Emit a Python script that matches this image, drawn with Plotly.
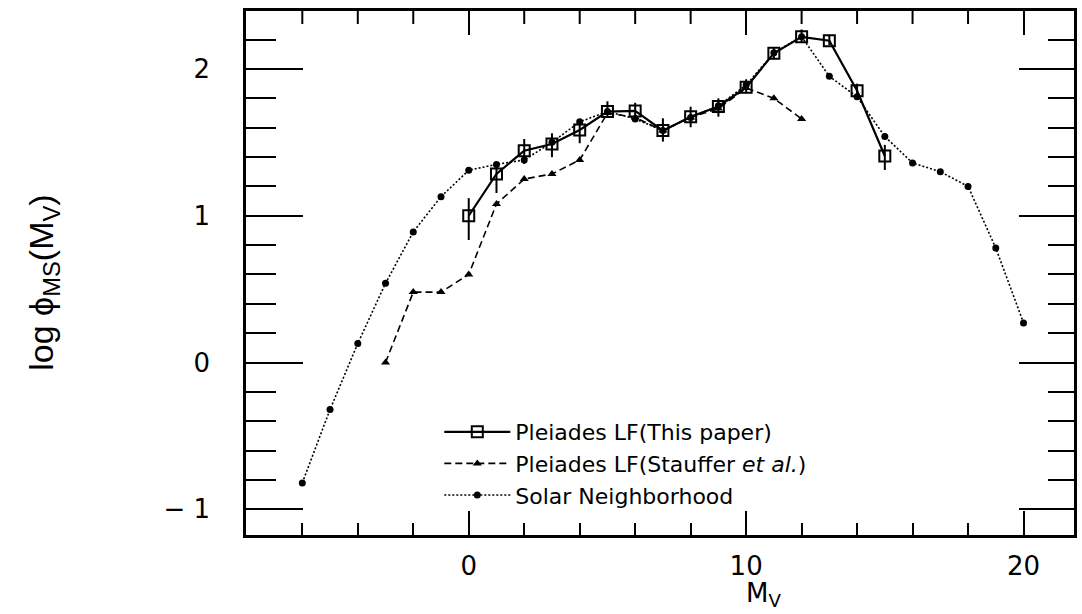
import plotly.graph_objects as go

# ---- data ----
solar_mv = [-6, -5, -4, -3, -2, -1, 0, 1, 2, 3, 4, 5, 6, 7, 8, 9, 10, 11, 12, 13, 14, 15, 16, 17, 18, 19, 20]
solar_lf = [-0.82, -0.32, 0.13, 0.54, 0.89, 1.13, 1.31, 1.35, 1.38, 1.50, 1.64, 1.71, 1.66, 1.58, 1.67, 1.75,
            1.89, 2.11, 2.22, 1.95, 1.81, 1.54, 1.36, 1.30, 1.20, 0.78, 0.27]

stauffer_mv = [-3, -2, -1, 0, 1, 2, 3, 4, 5, 6, 7, 8, 9, 10, 11, 12]
stauffer_lf = [0.00, 0.48, 0.48, 0.60, 1.08, 1.25, 1.285, 1.38, 1.70, 1.67, 1.58, 1.67, 1.73, 1.87, 1.80, 1.66]

paper_mv = [0, 1, 2, 3, 4, 5, 6, 7, 8, 9, 10, 11, 12, 13, 14, 15]
paper_lf = [1.00, 1.285, 1.443, 1.489, 1.584, 1.71, 1.714, 1.58, 1.675, 1.745, 1.875, 2.107, 2.219, 2.193, 1.852, 1.407]
paper_err_plus = [0.12, 0.07, 0.08, 0.073, 0.075, 0.07, 0.056, 0.084, 0.068, 0.055, 0.055, 0.04, 0.05, 0.04, 0.048, 0.076]
paper_err_minus = [0.165, 0.13, 0.09, 0.09, 0.09, 0.04, 0.062, 0.075, 0.072, 0.07, 0.041, 0.04, 0.04, 0.03, 0.063, 0.095]

x_tickvals = [0, 10, 20]
x_ticktext = ["0", "10", "20"]
x_minor_tickvals = [-6, -4, -2, 2, 4, 6, 8, 12, 14, 16, 18]
y_tickvals = [-1, 0, 1, 2]
y_ticktext = ["\u2212 1", "0", "1", "2"]

names = ["Pleiades LF(This paper)", "Pleiades LF(Stauffer <i>et al.</i>)", "Solar Neighborhood"]

X_RANGE = [-8.03, 21.82]
Y_RANGE = [-1.175, 2.395]

fig = go.Figure()

fig.add_trace(go.Scatter(
    x=solar_mv, y=solar_lf, mode="lines+markers", name=names[2], legendrank=3,
    line=dict(color="black", width=1.6, dash="2px,2px"),
    marker=dict(symbol="circle", size=7, color="black"),
))
fig.add_trace(go.Scatter(
    x=stauffer_mv, y=stauffer_lf, mode="lines+markers", name=names[1], legendrank=2,
    line=dict(color="black", width=1.6, dash="7px,4px"),
    marker=dict(symbol="triangle-up", size=8, color="black"),
))
fig.add_trace(go.Scatter(
    x=paper_mv, y=paper_lf, mode="lines+markers", name=names[0], legendrank=1,
    line=dict(color="black", width=2.2),
    marker=dict(symbol="square-open", size=11, color="black", line=dict(width=2, color="black")),
    error_y=dict(type="data", symmetric=False, array=paper_err_plus, arrayminus=paper_err_minus,
                 color="black", thickness=2, width=0),
))
fig.add_trace(go.Scatter(x=solar_mv, y=solar_lf, xaxis="x2", yaxis="y2", mode="markers",
                         marker=dict(opacity=0), showlegend=False, hoverinfo="skip"))

tickfont = dict(family="DejaVu Sans", size=26, color="black")
base = dict(type="linear", showgrid=False, zeroline=False, showline=True, linecolor="black", linewidth=2.5,
            ticks="inside", tickcolor="black", tickwidth=2)
xminor = dict(tickvals=x_minor_tickvals, ticks="inside", ticklen=12, tickwidth=2, tickcolor="black")
yminor = dict(dtick=0.2, tick0=0, ticks="inside", ticklen=30, tickwidth=2, tickcolor="black")

fig.update_layout(
    xaxis=dict(range=X_RANGE, tickvals=x_tickvals, ticktext=x_ticktext, ticklen=24, minor=xminor,
               tickfont=tickfont, ticklabelstandoff=6, mirror=True, **base),
    yaxis=dict(range=Y_RANGE, tickvals=y_tickvals, ticktext=y_ticktext, ticklen=57, minor=yminor,
               tickfont=tickfont, ticklabelstandoff=28, mirror=True, **base),
    xaxis2=dict(range=X_RANGE, overlaying="x", side="top", anchor="y2", tickvals=x_tickvals, ticklen=24,
                showticklabels=False, **base),
    yaxis2=dict(range=Y_RANGE, overlaying="y", side="right", tickvals=y_tickvals, ticklen=55,
                minor=dict(dtick=0.2, tick0=0, ticks="inside", ticklen=26, tickwidth=2, tickcolor="black"),
                showticklabels=False, **base),
)

# short ticks along the top edge, positioned through the x axis scale (sized in pixels)
for v in x_minor_tickvals:
    fig.add_shape(type="line", xref="x", yref="paper", ysizemode="pixel", yanchor=1,
                  x0=v, x1=v, y0=0, y1=-13, layer="above",
                  line=dict(color="black", width=2))

fig.add_annotation(
    text="log \u03d5<sub>MS</sub>(M<sub>V</sub>)", xref="paper", yref="paper",
    x=(42 - 246) / 831, y=(535 - 283) / 524, xanchor="center", yanchor="middle",
    textangle=-90, showarrow=False,
    font=dict(family="Liberation Sans Narrow, Liberation Sans", size=34, color="black"),
)
fig.add_annotation(
    text="M<sub>V</sub>", xref="paper", yref="paper",
    x=(765 - 246) / 831, y=(535 - 613) / 524, xanchor="center", yanchor="bottom",
    showarrow=False, font=dict(family="DejaVu Sans", size=26, color="black"),
)

fig.update_layout(
    width=1082, height=614,
    margin=dict(l=246, r=5, t=11, b=79),
    paper_bgcolor="white", plot_bgcolor="white",
    showlegend=True,
    legend=dict(x=(440 - 246) / 831, y=(535 - 411) / 524, xanchor="left", yanchor="top",
                bgcolor="rgba(0,0,0,0)", borderwidth=0, itemwidth=66, tracegroupgap=0,
                font=dict(family="DejaVu Sans", size=22, color="black")),
)

fig.write_html("out.html")
